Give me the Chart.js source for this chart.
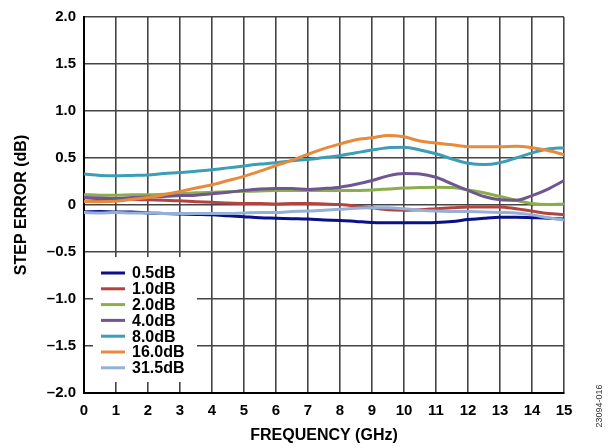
<!DOCTYPE html>
<html>
<head>
<meta charset="utf-8">
<script src="https://cdn.jsdelivr.net/npm/chart.js"></script>
<style>
  html, body { margin: 0; padding: 0; background: #fff; }
  #wrap { width: 611px; height: 448px; position: relative; }
</style>
</head>
<body>
<div id="wrap"><canvas id="c"></canvas></div>
<script>
// frequency points, GHz
const freq = [0, 0.5, 1, 1.5, 2, 2.5, 3, 3.5, 4, 4.5, 5, 5.5, 6, 6.5, 7, 7.5,
  8, 8.5, 9, 9.5, 10, 10.5, 11, 11.5, 12, 12.5, 13, 13.5, 14, 14.5, 15];

// step error (dB) for each attenuation step
const step05 = [-0.075, -0.07, -0.075, -0.075, -0.085, -0.09, -0.095, -0.10, -0.105, -0.115, -0.125, -0.135, -0.14, -0.145, -0.15, -0.16,
  -0.165, -0.175, -0.185, -0.19, -0.19, -0.19, -0.185, -0.175, -0.155, -0.14, -0.13, -0.13, -0.135, -0.14, -0.15];
const step10 = [0.04, 0.05, 0.06, 0.06, 0.055, 0.05, 0.045, 0.035, 0.03, 0.02, 0.015, 0.015, 0.01, 0.015, 0.015, 0.01,
  0.005, -0.01, -0.03, -0.05, -0.055, -0.05, -0.04, -0.03, -0.02, -0.02, -0.02, -0.04, -0.065, -0.09, -0.10];
const step20 = [0.11, 0.105, 0.105, 0.11, 0.11, 0.115, 0.12, 0.13, 0.135, 0.14, 0.145, 0.15, 0.155, 0.155, 0.155, 0.155,
  0.155, 0.155, 0.16, 0.17, 0.18, 0.185, 0.19, 0.185, 0.16, 0.13, 0.09, 0.05, 0.015, 0.005, 0.01];
const step40 = [0.08, 0.075, 0.07, 0.08, 0.085, 0.09, 0.10, 0.105, 0.12, 0.135, 0.155, 0.17, 0.175, 0.175, 0.165, 0.175,
  0.19, 0.22, 0.26, 0.31, 0.335, 0.33, 0.295, 0.225, 0.155, 0.09, 0.055, 0.05, 0.10, 0.17, 0.26];
const step80 = [0.33, 0.315, 0.31, 0.315, 0.32, 0.335, 0.345, 0.36, 0.375, 0.395, 0.415, 0.435, 0.45, 0.47, 0.485, 0.505,
  0.525, 0.555, 0.585, 0.61, 0.615, 0.585, 0.545, 0.49, 0.445, 0.43, 0.45, 0.50, 0.555, 0.595, 0.61];
const step160 = [0.04, 0.035, 0.04, 0.06, 0.08, 0.11, 0.145, 0.18, 0.215, 0.26, 0.305, 0.36, 0.42, 0.475, 0.54, 0.60,
  0.65, 0.695, 0.715, 0.74, 0.725, 0.68, 0.66, 0.64, 0.62, 0.62, 0.62, 0.625, 0.61, 0.58, 0.535];
const step315 = [-0.08, -0.085, -0.08, -0.085, -0.085, -0.09, -0.09, -0.09, -0.09, -0.09, -0.085, -0.08, -0.08, -0.07, -0.065, -0.055,
  -0.045, -0.035, -0.03, -0.03, -0.04, -0.055, -0.065, -0.07, -0.07, -0.075, -0.08, -0.085, -0.105, -0.135, -0.16];

const names = ['0.5dB', '1.0dB', '2.0dB', '4.0dB', '8.0dB', '16.0dB', '31.5dB'];
const series = [step05, step10, step20, step40, step80, step160, step315];
const colors = ['#0a0f8a', '#b3433f', '#8bad4c', '#6f5690', '#3b9db6', '#e88a3c', '#95b0d8'];

const yTicks = [-2, -1.5, -1, -0.5, 0, 0.5, 1, 1.5, 2];

const FONT = '"Liberation Sans", Arial, sans-serif';

// legend box sitting inside the plot, lower left
const boxLegend = {
  id: 'boxLegend',
  beforeDatasetsDraw(chart) {
    const ctx = chart.ctx;
    const a = chart.chartArea;
    const x0 = a.left + 9, y0 = a.bottom - 136;
    ctx.save();
    ctx.fillStyle = '#fff';
    ctx.fillRect(x0, y0, 104, 125);
    ctx.font = 'bold 16px ' + FONT;
    ctx.textBaseline = 'middle';
    chart.data.datasets.forEach((ds, i) => {
      const y = y0 + 16 + i * 15.8;
      ctx.strokeStyle = ds.borderColor;
      ctx.lineWidth = 3;
      ctx.beginPath();
      ctx.moveTo(x0 + 8, y);
      ctx.lineTo(x0 + 32, y);
      ctx.stroke();
      ctx.fillStyle = '#000';
      ctx.fillText(ds.label, x0 + 39, y + 1);
    });
    ctx.restore();
  },
  afterDraw(chart) {
    const ctx = chart.ctx;
    ctx.save();
    ctx.translate(600, 406);
    ctx.rotate(-Math.PI / 2);
    ctx.font = '9px ' + FONT;
    ctx.fillStyle = '#333';
    ctx.textAlign = 'center';
    ctx.textBaseline = 'middle';
    ctx.fillText('23094-016', 0, 0);
    ctx.restore();
  }
};

new Chart(document.getElementById('c'), {
  type: 'line',
  data: {
    datasets: series.map((s, i) => ({
      label: names[i],
      data: s.map((v, k) => ({ x: freq[k], y: v })),
      borderColor: colors[i],
      backgroundColor: colors[i],
      borderWidth: 3,
      pointRadius: 0,
      cubicInterpolationMode: 'monotone',
      order: series.length - i
    }))
  },
  options: {
    responsive: true,
    maintainAspectRatio: false,
    animation: false,
    events: [],
    layout: { padding: { top: 10, right: 47, left: 0, bottom: 0 } },
    plugins: { legend: { display: false }, tooltip: { enabled: false } },
    scales: {
      x: {
        type: 'linear',
        min: 0,
        max: 15,
        afterFit(s) { s.height = 55; },
        afterBuildTicks(s) { s.ticks = freq.filter(f => Number.isInteger(f)).map(v => ({ value: v })); },
        ticks: {
          color: '#000',
          font: { family: FONT, size: 15, weight: 'bold' },
          padding: 9,
          maxRotation: 0
        },
        grid: { color: '#444', lineWidth: 1.6, drawTicks: false },
        border: { color: '#000', width: 2 },
        title: {
          display: true,
          text: 'FREQUENCY (GHz)',
          color: '#000',
          font: { family: FONT, size: 16, weight: 'bold' },
          padding: { bottom: 3 }
        }
      },
      y: {
        min: -2,
        max: 2,
        afterFit(s) { s.width = 84; },
        afterBuildTicks(s) { s.ticks = yTicks.map(v => ({ value: v })); },
        ticks: {
          color: '#000',
          font: { family: FONT, size: 15, weight: 'bold' },
          padding: 8,
          callback: v => v === 0 ? '0' : (v < 0 ? '\u2013' : '') + Math.abs(v).toFixed(1)
        },
        grid: { color: '#444', lineWidth: 1.6, drawTicks: false },
        border: { color: '#000', width: 2 },
        title: {
          display: true,
          text: 'STEP ERROR (dB)',
          color: '#000',
          font: { family: FONT, size: 16, weight: 'bold' },
          padding: { top: 12 }
        }
      }
    }
  },
  plugins: [boxLegend]
});
</script>
</body>
</html>
